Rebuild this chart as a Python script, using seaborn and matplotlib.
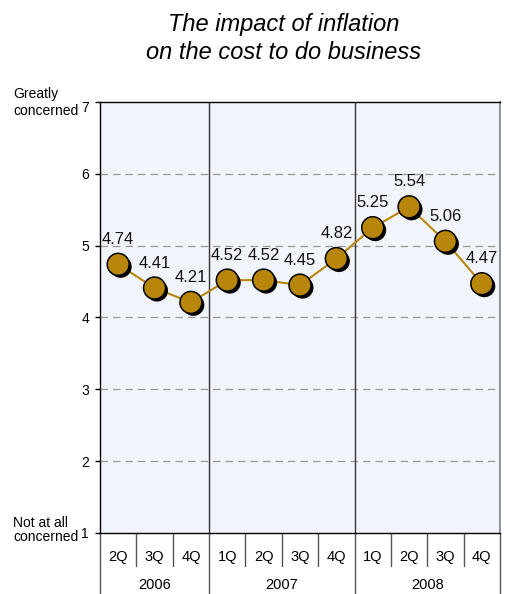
import matplotlib
matplotlib.use("Agg")
import matplotlib.pyplot as plt
import matplotlib.patheffects as pe
import matplotlib.transforms as mtransforms
import seaborn as sns
import pandas as pd

quarters = ["2Q", "3Q", "4Q", "1Q", "2Q", "3Q", "4Q", "1Q", "2Q", "3Q", "4Q"]
years = ["2006", "2007", "2008"]
quarters_per_year = [3, 4, 4]
concern = [4.74, 4.41, 4.21, 4.52, 4.52, 4.45, 4.82, 5.25, 5.54, 5.06, 4.47]

df = pd.DataFrame({"pos": range(len(concern)), "concern": concern})

sns.set_theme(style="white")
plt.rcParams["font.family"] = ["Liberation Sans", "DejaVu Sans"]
plt.rcParams["text.color"] = "black"
plt.rcParams["ytick.labelcolor"] = "black"

W, H = 505, 594
gold = "#B8860B"
fig = plt.figure(figsize=(W / 100, H / 100), dpi=100)
ax = fig.add_axes([100 / W, 1 - 533 / H, 400 / W, 431 / H])
ax.set_facecolor("#F1F5FB")

sns.lineplot(data=df, x="pos", y="concern", ax=ax, color=gold, lw=1.5, zorder=3)
sns.scatterplot(data=df, x="pos", y="concern", ax=ax, s=250, color=gold,
                edgecolor="black", linewidth=1.1, zorder=4,
                path_effects=[pe.SimplePatchShadow(offset=(1.8, -1.8),
                                                   shadow_rgbFace="black",
                                                   alpha=1.0),
                              pe.Normal()])

for x, v in zip(df["pos"], df["concern"]):
    ax.annotate(f"{v:.2f}", (x, v), xytext=(0, 18), textcoords="offset points",
                ha="center", va="center", fontsize=12, color="#111111")

ax.set_xlim(-0.5, len(concern) - 0.5)
ax.set_ylim(1, 7)
ax.set_yticks(range(1, 8))
ax.set_yticklabels([str(i) for i in range(1, 8)], fontsize=10)
ax.tick_params(axis="y", length=3.6, width=1, color="black", direction="out",
               left=True, pad=4.3)
# the top label sits just under its tick, clear of the axis frame
top_label = ax.get_yticklabels()[-1]
top_label.set_transform(top_label.get_transform() +
                        mtransforms.ScaledTranslation(0, -5 / 100, fig.dpi_scale_trans))

for yv in range(2, 7):
    ax.axhline(yv, color="#999999", lw=0.9, ls=(0, (6, 4)), zorder=1)

# year separators
bounds = []
acc = 0
for n in quarters_per_year:
    acc += n
    bounds.append(acc)
for b in bounds[:-1]:
    ax.axvline(b - 0.5, color="#333333", lw=1, zorder=2)

for s in ["left", "top", "bottom"]:
    ax.spines[s].set_color("black")
    ax.spines[s].set_linewidth(1)
ax.spines["right"].set_color("#808080")
ax.spines["right"].set_linewidth(1.2)

ax.set_xticks([])
ax.set_xlabel("")
ax.set_ylabel("")

# category axis below the plot
trans = ax.get_xaxis_transform()
for i, q in enumerate(quarters):
    ax.text(i, -24 / 431, q, transform=trans, ha="center", va="center",
            fontsize=10.5)
for i in range(1, len(quarters)):
    if i in bounds:
        continue
    ax.plot([i - 0.5, i - 0.5], [0, -33 / 431], transform=trans,
            color="#555555", lw=1, clip_on=False)
start = 0
for y, n in zip(years, quarters_per_year):
    ax.text(start + n / 2 - 0.5, -52 / 431, y, transform=trans, ha="center",
            va="center", fontsize=10.5)
    start += n
for b in [0] + bounds:
    ax.plot([b - 0.5, b - 0.5], [0, -0.16], transform=trans, color="#555555",
            lw=1, clip_on=False)

fig.text(13 / W, 1 - 98 / H, "Greatly", ha="left", va="baseline", fontsize=10)
fig.text(13 / W, 1 - 115 / H, "concerned", ha="left", va="baseline", fontsize=10)
fig.text(13 / W, 1 - 527 / H, "Not at all", ha="left", va="baseline", fontsize=10)
fig.text(13 / W, 1 - 541 / H, "concerned", ha="left", va="baseline", fontsize=10)

fig.text(284 / W, 1 - 31 / H, "The impact of inflation", ha="center",
         va="baseline", fontsize=17, style="italic")
fig.text(284 / W, 1 - 59 / H, "on the cost to do business", ha="center",
         va="baseline", fontsize=17, style="italic")

fig.savefig("out.png", dpi=100)
